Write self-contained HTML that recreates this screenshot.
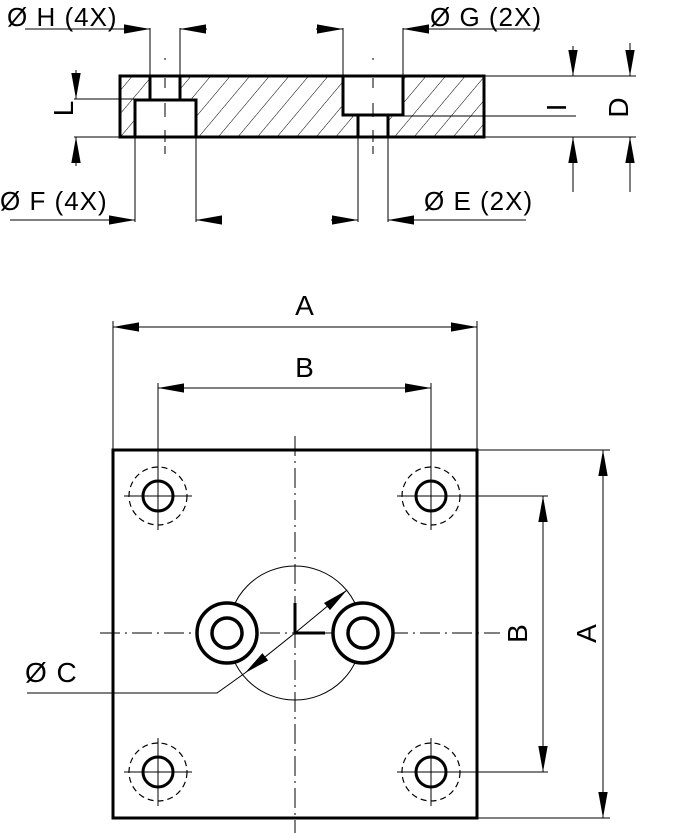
<!DOCTYPE html>
<html><head><meta charset="utf-8"><style>
html,body{margin:0;padding:0;background:#fff;}
svg{display:block}
text{font-family:"Liberation Sans","DejaVu Sans",sans-serif;fill:#000;letter-spacing:1px}
</style></head><body>
<svg width="684" height="833" viewBox="0 0 684 833" xmlns="http://www.w3.org/2000/svg">
<defs>
<marker id="ab" viewBox="0 0 10 10" refX="10" refY="5" markerWidth="26" markerHeight="26" markerUnits="userSpaceOnUse" orient="auto-start-reverse"><path d="M0,3.2 L10,5 L0,6.8z" fill="#000"/></marker>
<pattern id="hatch" patternUnits="userSpaceOnUse" width="15" height="15" patternTransform="rotate(40)"><line x1="0" y1="0" x2="0" y2="15" stroke="#000" stroke-width="1"/></pattern>
</defs>

<rect x="120" y="76" width="364" height="61" fill="url(#hatch)"/>
<rect x="150" y="76" width="30" height="24" fill="#fff"/>
<rect x="135" y="100" width="61" height="37" fill="#fff"/>
<rect x="343" y="76" width="60" height="39" fill="#fff"/>
<rect x="358" y="115" width="30" height="22" fill="#fff"/>
<g fill="none" stroke="#000" stroke-width="3">
<rect x="120" y="76" width="364" height="61"/>
<path d="M150,76 V100 M180,76 V100 M135,137 V100 H196 V137"/>
<path d="M343,76 V115 H403 V76 M358,115 V137 M388,115 V137"/>
</g>
<g stroke="#000" stroke-width="1" fill="none">
<path d="M165,58 v2 M165,78 v10 M165,103 v14 M165,130 v12 M165,146 v8" />
<path d="M373,58 v2 M373,78 v10 M373,103 v14 M373,130 v12 M373,146 v8"/>
<path d="M150,76 V28 M180,76 V28"/>
<line x1="25" y1="29" x2="150" y2="29" marker-end="url(#ab)"/>
<line x1="207" y1="29" x2="180" y2="29" marker-end="url(#ab)"/>
<path d="M343,76 V28 M403,76 V28"/>
<line x1="316" y1="29" x2="343" y2="29" marker-end="url(#ab)"/>
<line x1="540" y1="29" x2="403" y2="29" marker-end="url(#ab)"/>
<path d="M135,137 V222 M196,137 V222"/>
<line x1="10" y1="220" x2="135" y2="220" marker-end="url(#ab)"/>
<line x1="222" y1="220" x2="196" y2="220" marker-end="url(#ab)"/>
<path d="M358,137 V222 M388,137 V222"/>
<line x1="331" y1="220" x2="358" y2="220" marker-end="url(#ab)"/>
<line x1="526" y1="220" x2="388" y2="220" marker-end="url(#ab)"/>
<path d="M74,99 H150 M74,137 H135"/>
<line x1="76" y1="70" x2="76" y2="99" marker-end="url(#ab)"/>
<line x1="76" y1="166" x2="76" y2="137" marker-end="url(#ab)"/>
<path d="M403,116 H576 M484,76 H636 M484,137 H636"/>
<line x1="573" y1="46" x2="573" y2="76" marker-end="url(#ab)"/>
<line x1="573" y1="192" x2="573" y2="137" marker-end="url(#ab)"/>
<line x1="630" y1="43" x2="630" y2="76" marker-end="url(#ab)"/>
<line x1="630" y1="192" x2="630" y2="137" marker-end="url(#ab)"/>
</g>
<text x="7" y="26" font-size="26">Ø H (4X)</text>
<text x="430" y="26" font-size="26">Ø G (2X)</text>
<text x="0" y="210" font-size="26">Ø F (4X)</text>
<text x="424" y="210" font-size="26">Ø E (2X)</text>
<text x="0" y="0" font-size="28" transform="translate(73,108) rotate(-90)" text-anchor="middle">L</text>
<text x="0" y="0" font-size="28" transform="translate(566,107) rotate(-90)" text-anchor="middle">I</text>
<text x="0" y="0" font-size="28" transform="translate(628,107) rotate(-90)" text-anchor="middle">D</text>

<g stroke="#000" stroke-width="1" fill="none">
<path d="M113,321 V450 M477,321 V450"/>
<line x1="295" y1="327" x2="113" y2="327" marker-end="url(#ab)"/>
<line x1="295" y1="327" x2="477" y2="327" marker-end="url(#ab)"/>
<path d="M158,383 V495 M431,383 V495"/>
<line x1="295" y1="388" x2="158" y2="388" marker-end="url(#ab)"/>
<line x1="295" y1="388" x2="431" y2="388" marker-end="url(#ab)"/>
<path d="M477,450 H610 M477,818 H610 M458,496 H548 M458,772 H548"/>
<line x1="543" y1="633" x2="543" y2="496" marker-end="url(#ab)"/>
<line x1="543" y1="633" x2="543" y2="772" marker-end="url(#ab)"/>
<line x1="603" y1="633" x2="603" y2="450" marker-end="url(#ab)"/>
<line x1="603" y1="633" x2="603" y2="818" marker-end="url(#ab)"/>
<line x1="295" y1="436" x2="295" y2="833" stroke-dasharray="20,5,2,5"/>
<line x1="100" y1="633" x2="500" y2="633" stroke-dasharray="20,5,2,5"/>
<circle cx="295" cy="633" r="67"/>
<line x1="295" y1="633" x2="347" y2="590" marker-end="url(#ab)"/>
<line x1="295" y1="633" x2="245" y2="673" marker-end="url(#ab)"/>
<path d="M245,673 L217,693 H27"/>
</g>
<rect x="113" y="450" width="364" height="368" fill="none" stroke="#000" stroke-width="3"/>
<path d="M295,603 V633 H325" fill="none" stroke="#000" stroke-width="3"/>
<g fill="#fff" stroke="#000" stroke-width="3.5">
<circle cx="227" cy="633" r="30"/><circle cx="227" cy="633" r="15"/>
<circle cx="363" cy="633" r="30"/><circle cx="363" cy="633" r="15"/>
</g>
<g stroke="#000" fill="none">
<g stroke-width="1.2" stroke-dasharray="6,4">
<circle cx="158" cy="496" r="29"/><circle cx="431" cy="496" r="29"/>
<circle cx="158" cy="772" r="29"/><circle cx="431" cy="772" r="29"/>
</g>
<g stroke-width="3">
<circle cx="158" cy="496" r="15"/><circle cx="431" cy="496" r="15"/>
<circle cx="158" cy="772" r="15"/><circle cx="431" cy="772" r="15"/>
</g>
<g stroke-width="1">
<path d="M158,462 v68 M124,496 h68 M431,462 v68 M397,496 h68 M158,738 v68 M124,772 h68 M431,738 v68 M397,772 h68"/>
</g>
</g>
<text x="305" y="315" font-size="28" text-anchor="middle">A</text>
<text x="305" y="377" font-size="28" text-anchor="middle">B</text>
<text x="0" y="0" font-size="28" transform="translate(527,633) rotate(-90)" text-anchor="middle">B</text>
<text x="0" y="0" font-size="28" transform="translate(596,633) rotate(-90)" text-anchor="middle">A</text>
<text x="25" y="682" font-size="28">Ø C</text>
</svg>
</body></html>
